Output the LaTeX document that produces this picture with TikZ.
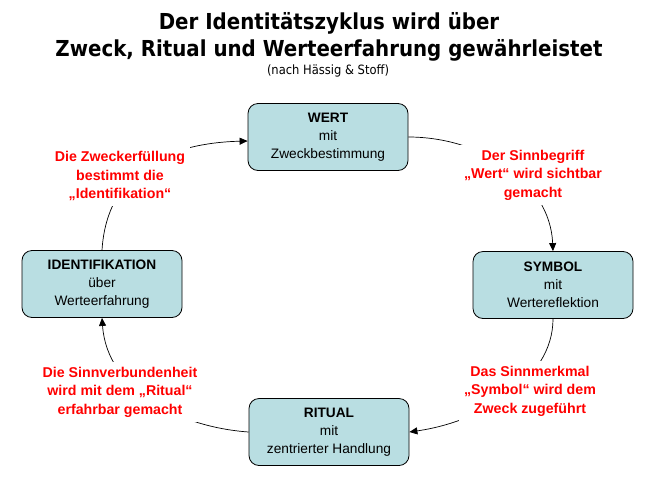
\documentclass[tikz,border=0pt]{standalone}
\usepackage{fontspec}
\setmainfont{Liberation Sans}
\newfontfamily\titlefont[FakeStretch=0.9]{DejaVu Sans}
\usetikzlibrary{arrows.meta}
\definecolor{boxfill}{RGB}{185,222,226}
\definecolor{lblred}{RGB}{255,0,0}
\tikzset{
  box/.style={draw=black, line width=0.8pt, fill=boxfill, rounded corners=10pt,
    minimum width=160pt, minimum height=67pt, align=center, inner sep=2pt,
    font=\fontsize{13.7}{17.8}\selectfont},
  lbl/.style={text=lblred, fill=white, align=center, inner sep=5pt,
    font=\fontsize{14.2}{18.5}\selectfont\bfseries},
  conn/.style={draw=black, line width=0.7pt, -{Triangle[length=8pt,width=7pt]}}
}
\begin{document}
\begin{tikzpicture}[x=1pt,y=-1pt]
\useasboundingbox (0,0) rectangle (663,477);
\node[font=\titlefont\bfseries\fontsize{22}{26.5}\selectfont, align=center] (title) at (329,37)
  {Der Identitätszyklus wird über\\Zweck, Ritual und Werteerfahrung gewährleistet};
\node[font=\titlefont\fontsize{12.8}{14}\selectfont] (sub) at (328,71) {(nach Hässig \& Stoff)};

\node[box] (wert) at (328,137) {\textbf{WERT}\\mit\\Zweckbestimmung};
\node[box] (symbol) at (553,285) {\textbf{SYMBOL}\\mit\\Wertereflektion};
\node[box] (idf) at (102,284) {\textbf{IDENTIFIKATION}\\über\\Werteerfahrung};
\node[box] (ritual) at (329,432) {\textbf{RITUAL}\\mit\\zentrierter Handlung};

\draw[conn] (idf.north) .. controls +(5,-80) and +(-78,2) .. ([yshift=-4pt]wert.west);
\draw[conn] (wert.east) .. controls +(72,0) and +(-3,-70) .. (symbol.north);
\draw[conn] (symbol.south) .. controls +(0,62) and +(70,-10) .. (ritual.east);
\draw[conn] (ritual.west) .. controls +(-70,-5) and +(5,72) .. (idf.south);

\node[lbl] (l1) at (120,176) {Die Zweckerfüllung\\bestimmt die\\„Identifikation“};
\node[lbl] (l2) at (533,175) {Der Sinnbegriff\\„Wert“ wird sichtbar\\gemacht};
\node[lbl] (l3) at (120,392) {Die Sinnverbundenheit\\wird mit dem „Ritual“\\erfahrbar gemacht};
\node[lbl] (l4) at (530,391) {Das Sinnmerkmal\\„Symbol“ wird dem\\Zweck zugeführt};
\end{tikzpicture}
\end{document}
